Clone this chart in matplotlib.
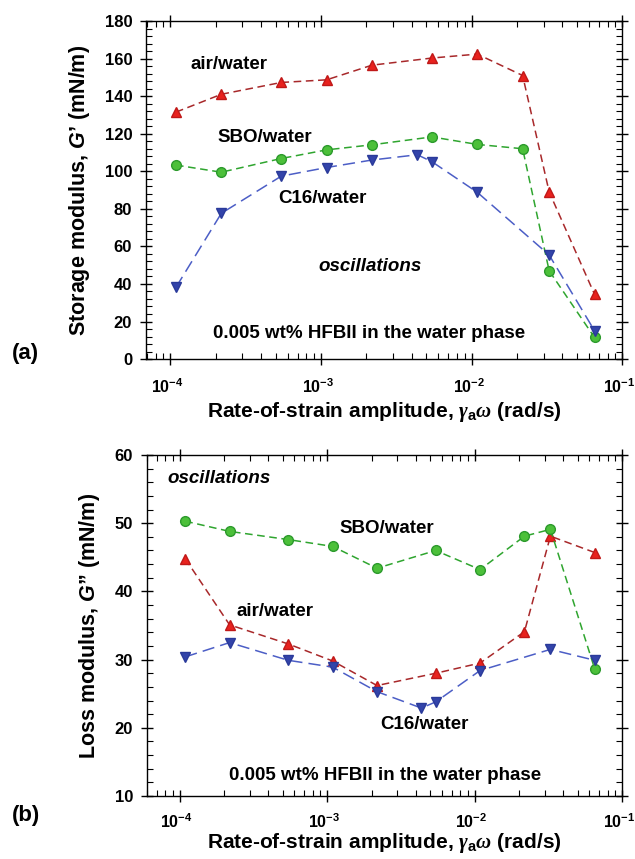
import numpy as np
import matplotlib
matplotlib.use('Agg')
import matplotlib.pyplot as plt
import matplotlib.transforms as mtransforms
from matplotlib.ticker import LogLocator, MultipleLocator, NullFormatter, FuncFormatter

plt.rcParams['font.family'] = ['Liberation Sans', 'DejaVu Sans']
plt.rcParams['font.weight'] = 'bold'
plt.rcParams['mathtext.fontset'] = 'custom'
plt.rcParams['mathtext.rm'] = 'Liberation Sans:bold'
plt.rcParams['mathtext.it'] = 'Liberation Serif:italic:bold'
plt.rcParams['mathtext.sf'] = 'Liberation Sans:italic:bold'
plt.rcParams['mathtext.bf'] = 'Liberation Sans:bold'

# rate-of-strain amplitude (rad/s)
x_air = [1.09e-4, 2.18e-4, 5.45e-4, 1.09e-3, 2.18e-3, 5.45e-3, 1.09e-2, 2.18e-2, 3.27e-2, 6.54e-2]
x_sbo = [1.09e-4, 2.18e-4, 5.45e-4, 1.09e-3, 2.18e-3, 5.45e-3, 1.09e-2, 2.18e-2, 3.27e-2, 6.54e-2]
x_c16 = [1.09e-4, 2.18e-4, 5.45e-4, 1.09e-3, 2.18e-3, 4.36e-3, 5.45e-3, 1.09e-2, 3.27e-2, 6.54e-2]

# storage modulus G' (mN/m)
g1_air = [131.5, 141, 147.3, 148.7, 156.5, 160.3, 162.4, 151, 89, 34.5]
g1_sbo = [103.3, 99.5, 106.8, 111.4, 114.1, 118.3, 114.3, 112, 47, 11.5]
g1_c16 = [38.2, 77.6, 97.4, 102, 106, 108.8, 105.1, 88.8, 55.4, 15.1]

# loss modulus G'' (mN/m)
g2_air = [44.8, 35.1, 32.3, 29.8, 26.2, 28.0, 29.5, 34.1, 48.1, 45.7]
g2_sbo = [50.3, 48.8, 47.6, 46.6, 43.4, 46.0, 43.2, 48.1, 49.1, 28.6]
g2_c16 = [30.4, 32.5, 29.9, 28.9, 25.3, 22.9, 23.8, 28.4, 31.5, 29.9]

styles = {
    'air': dict(color='#a8282a', ls=(0, (5, 3)), lw=1.1, marker='^', ms=7,
                mfc='#e8221e', mec='#c01818'),
    'sbo': dict(color='#2fa52f', ls=(0, (5, 3)), lw=1.1, marker='o', ms=7,
                mfc='#4cc03a', mec='#2c9a2c'),
    'c16': dict(color='#4c5ec6', ls=(0, (8, 4)), lw=1.1, marker='v', ms=7,
                mfc='#3344aa', mec='#2a3a9a'),
}

fig = plt.figure(figsize=(6.35, 8.59), dpi=100)
ax1 = fig.add_axes([0.230, 0.582, 0.750, 0.3935])
ax2 = fig.add_axes([0.2315, 0.0733, 0.748, 0.397])


def etiqueta_log(v, pos):
    n = int(round(np.log10(v)))
    return r'$\mathbf{10^{%d}}$' % n


def formato(ax, ymin, ymax, ymaj, ymin_step, xlo, xpad, lpad):
    ax.set_xscale('log')
    ax.set_xlim(xlo, 0.1)
    ax.set_ylim(ymin, ymax)
    ax.xaxis.set_major_locator(LogLocator(base=10, numticks=10))
    ax.xaxis.set_major_formatter(FuncFormatter(etiqueta_log))
    ax.xaxis.set_minor_locator(LogLocator(base=10, subs=np.arange(2, 10), numticks=20))
    ax.xaxis.set_minor_formatter(NullFormatter())
    ax.yaxis.set_major_locator(MultipleLocator(ymaj))
    ax.yaxis.set_minor_locator(MultipleLocator(ymin_step))
    ax.tick_params(which='major', direction='inout', length=8, width=1,
                   top=True, right=True, labelsize=12, pad=6)
    ax.tick_params(which='minor', direction='in', length=4, width=0.8,
                   top=True, right=True)
    ax.tick_params(axis='x', which='major', labelsize=11.5, pad=xpad)
    for s in ax.spines.values():
        s.set_linewidth(1)
    for lab in ax.get_yticklabels():
        lab.set_fontweight('bold')
    # etiquetas del eje x un poco a la izquierda para que quepa 10^-1
    desplaza = mtransforms.ScaledTranslation(-3 / 100, 0, fig.dpi_scale_trans)
    for lab in ax.get_xticklabels():
        lab.set_transform(lab.get_transform() + desplaza)
    ax.set_xlabel(r'Rate-of-strain amplitude, $\mathit{\gamma}_{\mathbf{a}}\mathit{\omega}$ (rad/s)',
                  fontsize=15, fontweight='bold', labelpad=lpad)


# (a) storage modulus
ax1.plot(x_air, g1_air, **styles['air'])
ax1.plot(x_sbo, g1_sbo, **styles['sbo'])
ax1.plot(x_c16, g1_c16, **styles['c16'])
formato(ax1, 0, 180, 20, 4, 6.9e-5, 9, 3)
ax1.set_ylabel("Storage modulus, $\\mathsf{G}$\u2019 (mN/m)", fontsize=15.5, fontweight='bold', labelpad=9)

ax1.text(1.36e-4, 156.6, 'air/water', fontsize=13.5, fontweight='bold', ha='left', va='center')
ax1.text(2.06e-4, 118.2, 'SBO/water', fontsize=13.5, fontweight='bold', ha='left', va='center')
ax1.text(5.2e-4, 85.7, 'C16/water', fontsize=13.5, fontweight='bold', ha='left', va='center')
ax1.text(9.6e-4, 49.5, 'oscillations', fontsize=13.5, fontweight='bold', style='italic',
         ha='left', va='center')
ax1.text(1.91e-4, 13.8, '0.005 wt% HFBII in the water phase', fontsize=13.5,
         fontweight='bold', ha='left', va='center')
fig.text(0.018, 0.589, '(a)', fontsize=16, fontweight='bold', ha='left', va='center')

# (b) loss modulus
ax2.plot(x_air, g2_air, **styles['air'])
ax2.plot(x_sbo, g2_sbo, **styles['sbo'])
ax2.plot(x_c16, g2_c16, **styles['c16'])
formato(ax2, 10, 60, 10, 2, 6.0e-5, 8, 0)
ax2.set_ylabel("Loss modulus, $\\mathsf{G}$\u201d (mN/m)", fontsize=15.5, fontweight='bold', labelpad=9)

ax2.text(8.2e-5, 56.5, 'oscillations', fontsize=13.5, fontweight='bold', style='italic',
         ha='left', va='center')
ax2.text(1.22e-3, 49.2, 'SBO/water', fontsize=13.5, fontweight='bold', ha='left', va='center')
ax2.text(2.44e-4, 37.0, 'air/water', fontsize=13.5, fontweight='bold', ha='left', va='center')
ax2.text(2.29e-3, 20.5, 'C16/water', fontsize=13.5, fontweight='bold', ha='left', va='center')
ax2.text(2.16e-4, 13.0, '0.005 wt% HFBII in the water phase', fontsize=13.5,
         fontweight='bold', ha='left', va='center')
fig.text(0.018, 0.051, '(b)', fontsize=16, fontweight='bold', ha='left', va='center')

fig.savefig('out.png', dpi=100)
